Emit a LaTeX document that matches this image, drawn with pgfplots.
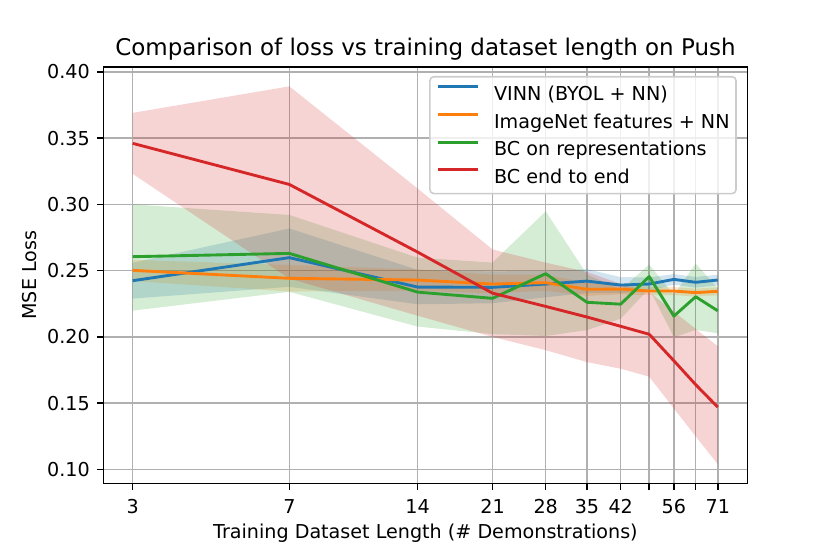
\documentclass[border=0pt]{standalone}
\usepackage{fontspec}
\setmainfont{DejaVu Sans}
\usepackage{pgfplots}
\pgfplotsset{compat=1.18}
\usepackage{pgfplotstable}
\usepgfplotslibrary{fillbetween}
\definecolor{tabblue}{HTML}{1F77B4}
\definecolor{taborange}{HTML}{FF7F0E}
\definecolor{tabgreen}{HTML}{2CA02C}
\definecolor{tabred}{HTML}{D62728}
\definecolor{gridgray}{HTML}{B0B0B0}
\definecolor{legendgray}{HTML}{CCCCCC}

\pgfplotstableread{
x m lo hi
3 0.2424 0.2289 0.2559
7 0.2598 0.2378 0.2818
14 0.2376 0.2246 0.2506
21 0.2374 0.2254 0.2494
28 0.2399 0.2299 0.2499
35 0.2421 0.2331 0.2511
42 0.2391 0.2331 0.2451
49 0.2399 0.2349 0.2449
56 0.2434 0.2394 0.2474
63 0.2412 0.2372 0.2452
71 0.2429 0.2389 0.2469
}\vinn

\pgfplotstableread{
x m lo hi
3 0.2502 0.2422 0.2582
7 0.2442 0.2342 0.2542
14 0.2429 0.2349 0.2509
21 0.2399 0.2329 0.2469
28 0.2409 0.2349 0.2469
35 0.2359 0.2309 0.2409
42 0.2361 0.2321 0.2401
49 0.2346 0.2316 0.2376
56 0.2346 0.2316 0.2376
63 0.2334 0.2304 0.2364
71 0.2344 0.2314 0.2374
}\imnet

\pgfplotstableread{
x m lo hi
3 0.2605 0.2198 0.3000
7 0.2630 0.2340 0.2920
14 0.2338 0.2078 0.2598
21 0.2291 0.2021 0.2561
28 0.2477 0.2007 0.2947
35 0.2261 0.2051 0.2471
42 0.2247 0.2137 0.2357
49 0.2455 0.2365 0.2545
56 0.2157 0.1997 0.2317
63 0.2303 0.2053 0.2553
71 0.2197 0.2027 0.2367
}\bcrep

\pgfplotstableread{
x m lo hi
3 0.346 0.323 0.369
7 0.315 0.244 0.389
14 0.264 0.216 0.312
21 0.233 0.200 0.266
28 0.223 0.190 0.256
35 0.215 0.181 0.249
42 0.208 0.176 0.240
49 0.202 0.170 0.234
56 0.182 0.146 0.219
63 0.164 0.125 0.206
71 0.147 0.104 0.193
}\bcend

\begin{document}
\begin{tikzpicture}
\begin{axis}[
  set layers=standard,
  scale only axis,
  width=335.1bp, height=216.9bp,
  xmode=log,
  xmin=2.562, xmax=83.3,
  ymin=0.08944, ymax=0.40377,
  xtick={3,7,14,21,28,35,42,49,56,63,71},
  xticklabels={3,7,14,21,28,35,42,,56,,71},
  minor xtick={},
  ytick={0.10,0.15,0.20,0.25,0.30,0.35,0.40},
  yticklabel style={/pgf/number format/fixed, /pgf/number format/fixed zerofill, /pgf/number format/precision=2},
  /pgf/number format/assume math mode=true,
  grid=major,
  major grid style={draw=gridgray, line width=0.8bp},
  tick align=outside,
  tick pos=left,
  major tick length=3.5bp,
  every tick/.style={black, line width=0.8bp},
  axis line style={line width=0.8bp},
  every tick label/.append style={font=\fontsize{10}{12}\selectfont},
  xticklabel style={anchor=base, inner sep=0pt, yshift=-12bp},
  yticklabel style={anchor=east, inner sep=0pt, xshift=-3.5bp},
  every axis title shift=0pt,
  title={Comparison of loss vs training dataset length on Push},
  title style={font=\fontsize{12}{14}\selectfont, at={(axis description cs:0.5,1.0263)}, anchor=base, inner sep=0pt},
  xlabel={Training Dataset Length (\# Demonstrations)},
  xlabel style={font=\fontsize{10}{12}\selectfont, at={(axis description cs:0.5,-0.1314)}, anchor=base, inner sep=0pt},
  ylabel={MSE Loss},
  ylabel style={font=\fontsize{10}{12}\selectfont, at={(axis description cs:-0.1048,0.5)}, anchor=base, inner sep=0pt},
  legend cell align=left,
  legend image code/.code={\path[draw=none, fill=none] (0bp,0bp) rectangle (20.8bp,7bp); \draw[#1, line width=1.5bp, sharp corners] (0bp,3.5bp) -- (20.8bp,3.5bp);},
  legend style={at={(axis description cs:1,1)}, anchor=north east, xshift=-5.5bp, yshift=-4.8bp,
    draw=legendgray, line width=0.8bp, rounded corners=2bp, fill=white, fill opacity=0.8, text opacity=1, draw opacity=1,
    font=\fontsize{10}{12}\selectfont, inner xsep=3.3bp, inner ysep=1.6bp, row sep=0pt,
    nodes={inner sep=0pt, text height=10.7bp, text depth=3.7bp},
    /tikz/every odd column/.append style={column sep=7.8bp}},
]
% bands
\addplot[name path=ahi, draw=none, forget plot] table[x=x,y=hi]{\vinn};
\addplot[name path=alo, draw=none, forget plot] table[x=x,y=lo]{\vinn};
\addplot[fill=tabblue, fill opacity=0.2, draw=none, forget plot, on layer=axis background] fill between[of=ahi and alo];
\addplot[name path=bhi, draw=none, forget plot] table[x=x,y=hi]{\imnet};
\addplot[name path=blo, draw=none, forget plot] table[x=x,y=lo]{\imnet};
\addplot[fill=taborange, fill opacity=0.2, draw=none, forget plot, on layer=axis background] fill between[of=bhi and blo];
\addplot[name path=chi, draw=none, forget plot] table[x=x,y=hi]{\bcrep};
\addplot[name path=clo, draw=none, forget plot] table[x=x,y=lo]{\bcrep};
\addplot[fill=tabgreen, fill opacity=0.2, draw=none, forget plot, on layer=axis background] fill between[of=chi and clo];
\addplot[name path=dhi, draw=none, forget plot] table[x=x,y=hi]{\bcend};
\addplot[name path=dlo, draw=none, forget plot] table[x=x,y=lo]{\bcend};
\addplot[fill=tabred, fill opacity=0.2, draw=none, forget plot, on layer=axis background] fill between[of=dhi and dlo];
% lines
\addplot[tabblue, line width=1.5bp, line join=round] table[x=x,y=m]{\vinn};
\addlegendentry{VINN (BYOL + NN)}
\addplot[taborange, line width=1.5bp, line join=round] table[x=x,y=m]{\imnet};
\addlegendentry{ImageNet features + NN}
\addplot[tabgreen, line width=1.5bp, line join=round] table[x=x,y=m]{\bcrep};
\addlegendentry{BC on representations}
\addplot[tabred, line width=1.5bp, line join=round] table[x=x,y=m]{\bcend};
\addlegendentry{BC end to end}
\end{axis}
\pgfresetboundingbox
\path[use as bounding box] (-53.87bp,-36.69bp) rectangle (378.13bp,251.65bp);
\end{tikzpicture}
\end{document}
